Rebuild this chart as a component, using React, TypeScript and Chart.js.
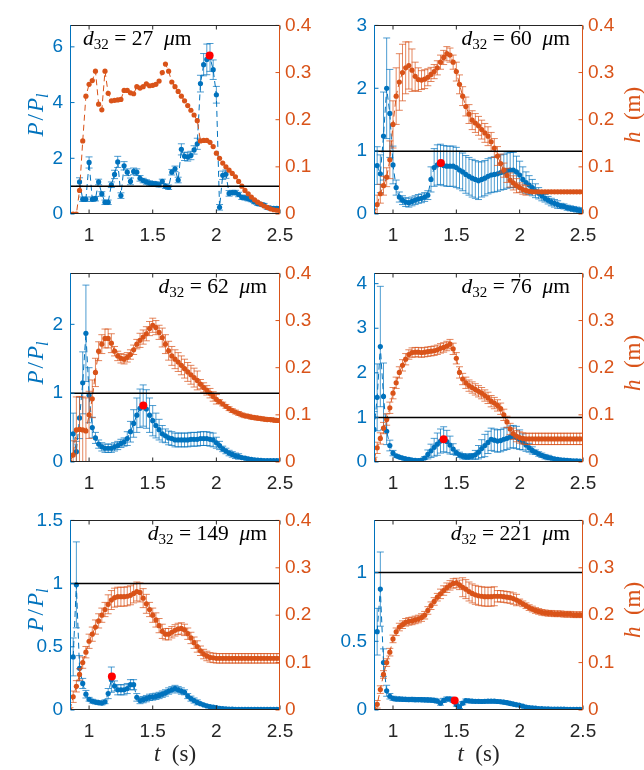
import React, { useEffect, useRef } from "react";
import { Chart, registerables } from "chart.js";

Chart.register(...registerables);

// ---------------- data ----------------
const T = [0.85,0.875,0.9,0.925,0.95,0.975,1,1.025,1.05,1.075,1.1,1.125,1.15,1.175,1.2,1.225,1.25,1.275,1.3,1.325,1.35,1.375,1.4,1.425,1.45,1.475,1.5,1.525,1.55,1.575,1.6,1.625,1.65,1.675,1.7,1.725,1.75,1.775,1.8,1.825,1.85,1.875,1.9,1.925,1.95,1.975,2,2.025,2.05,2.075,2.1,2.125,2.15,2.175,2.2,2.225,2.25,2.275,2.3,2.325,2.35,2.375,2.4,2.425,2.45,2.475,2.5];
const X_MIN = 0.85;
const X_MAX = 2.5;
const X_TICKS = [1, 1.5, 2, 2.5];
const H_MAX = 0.4;
const H_TICKS = [0, 0.1, 0.2, 0.3, 0.4];
const REF_LEVEL = 1;
const D32 = ["27", "60", "62", "76", "149", "221"];
const P_MAX = [6.77, 3, 2.74, 4.23, 1.5, 1.38];
const P1_TICKS = [0, 2, 4, 6];
const P2_TICKS = [0, 1, 2, 3];
const P3_TICKS = [0, 1, 2];
const P4_TICKS = [0, 1, 2, 3, 4];
const P5_TICKS = [0, 0.5, 1, 1.5];
const P6_TICKS = [0, 0.5, 1];
const RED_T = [1.947, 1.378, 1.426, 1.4, 1.179, 1.487];
const RED_P = [5.69, 0.81, 0.82, 0.51, 0.265, 0.069];

const P1_P = [null,null,null,1.15,0.53,0.53,1.85,0.53,0.55,1.15,
0.72,0.42,0.42,1.05,1.42,1.87,0.66,1.73,1.5,1.17,
1.53,1.5,1.28,1.2,1.15,1.11,1.09,1.08,1.05,1.17,
1.0,0.96,1.5,1.62,1.22,2.32,2.07,2.05,2.1,2.3,
2.52,4.68,5.36,5.55,5.62,5.18,4.28,0.24,1.39,1.43,
0.74,0.77,0.77,0.7,0.6,0.58,0.55,0.5,0.43,0.37,
0.35,0.32,0.23,0.21,0.2,0.2,0.2];
const P1_PE = [0,0,0,0.15,0.08,0.08,0.2,0.08,0.08,0.1,
0.08,0.08,0.08,0.1,0.15,0.2,0.1,0.15,0.12,0.12,
0.12,0.12,0.1,0.08,0.08,0.08,0.08,0.08,0.08,0.08,
0.08,0.08,0.1,0.1,0.1,0.2,0.15,0.15,0.15,0.15,
0.2,0.3,0.4,0.55,0.5,0.35,0.3,0.1,0.15,0.15,
0.1,0.08,0.08,0.08,0.08,0.08,0.08,0.06,0.06,0.06,
0.06,0.06,0.06,0.06,0.06,0.06,0.06];
const P1_H = [0,0,0,0.05,0.155,0.25,0.275,0.283,0.303,0.233,
0.221,0.303,0.256,0.24,0.241,0.242,0.243,0.262,0.262,0.257,
0.255,0.27,0.267,0.27,0.276,0.272,0.273,0.275,0.282,0.3,
0.318,0.303,0.28,0.27,0.26,0.25,0.24,0.23,0.22,0.21,
0.198,0.155,0.156,0.156,0.152,0.143,0.129,0.118,0.108,0.1,
0.093,0.086,0.079,0.069,0.059,0.05,0.043,0.036,0.03,0.025,
0.021,0.017,0.014,0.011,0.009,0.008,0.007];
const P1_HE = null;

const P2_P = [null,0.77,0.64,1.24,2.0,1.6,0.78,0.42,0.27,0.22,
0.19,0.18,0.2,0.22,0.24,0.25,0.27,0.3,0.55,0.74,
0.78,0.79,0.77,0.76,0.76,0.76,0.74,0.7,0.67,0.63,
0.6,0.57,0.55,0.53,0.55,0.57,0.6,0.62,0.63,0.64,
0.66,0.67,0.69,0.7,0.7,0.67,0.62,0.55,0.5,0.46,
0.42,0.37,0.33,0.29,0.25,0.22,0.19,0.17,0.15,0.13,
0.12,0.1,0.09,0.08,0.07,0.06,0.05];
const P2_PE = [0,0.3,0.3,0.7,0.8,0.7,0.3,0.12,0.08,0.07,
0.07,0.07,0.07,0.07,0.07,0.07,0.07,0.07,0.2,0.3,
0.32,0.32,0.32,0.32,0.32,0.32,0.32,0.3,0.3,0.3,
0.3,0.3,0.3,0.3,0.28,0.28,0.28,0.28,0.28,0.28,
0.28,0.28,0.28,0.28,0.28,0.25,0.22,0.2,0.17,0.15,
0.13,0.11,0.09,0.08,0.06,0.06,0.06,0.06,0.06,0.04,
0.04,0.04,0.04,0.04,0.04,0.04,0.04];
const P2_H = [0,0.02,0.043,0.06,0.078,0.115,0.19,0.25,0.28,0.3,
0.31,0.315,0.305,0.292,0.285,0.284,0.286,0.29,0.296,0.302,
0.31,0.322,0.332,0.34,0.337,0.322,0.302,0.275,0.25,0.228,
0.212,0.199,0.193,0.187,0.179,0.172,0.165,0.153,0.14,0.123,
0.107,0.093,0.082,0.072,0.066,0.06,0.056,0.052,0.05,0.048,
0.047,0.047,0.047,0.047,0.047,0.047,0.047,0.047,0.047,0.047,
0.047,0.047,0.047,0.047,0.047,0.047,0.047];
const P2_HE = [0.01,0.02,0.02,0.02,0.02,0.04,0.05,0.06,0.06,0.06,
0.055,0.05,0.045,0.03,0.025,0.02,0.02,0.018,0.015,0.015,
0.015,0.015,0.015,0.015,0.015,0.015,0.02,0.02,0.02,0.02,
0.02,0.02,0.02,0.02,0.02,0.02,0.02,0.02,0.02,0.02,
0.02,0.015,0.015,0.015,0.015,0.015,0.01,0.01,0.01,0.003,
0.003,0.003,0.003,0.003,0.003,0.003,0.003,0.003,0.003,0.003,
0.003,0.003,0.003,0.003,0.003,0.003,0.003];

const P3_P = [null,0.41,0.15,0.64,1.15,1.87,0.97,0.5,0.35,0.26,
0.22,0.2,0.2,0.2,0.22,0.24,0.27,0.29,0.34,0.44,
0.56,0.68,0.78,0.82,0.77,0.68,0.6,0.53,0.47,0.41,
0.38,0.35,0.34,0.32,0.32,0.32,0.32,0.32,0.33,0.33,
0.33,0.34,0.34,0.34,0.33,0.32,0.28,0.24,0.19,0.16,
0.13,0.11,0.09,0.08,0.065,0.055,0.045,0.037,0.03,0.027,
0.024,0.022,0.02,0.02,0.02,0.02,0.02];
const P3_PE = [0,0.3,0.15,0.3,0.45,0.7,0.4,0.15,0.08,0.06,
0.06,0.06,0.06,0.06,0.06,0.06,0.06,0.06,0.1,0.15,
0.2,0.25,0.28,0.3,0.28,0.25,0.22,0.18,0.15,0.12,
0.1,0.1,0.1,0.1,0.1,0.1,0.1,0.1,0.1,0.1,
0.1,0.1,0.1,0.1,0.1,0.1,0.08,0.06,0.04,0.04,
0.04,0.04,0.04,0.04,0.015,0.015,0.015,0.015,0.015,0.015,
0.015,0.015,0.015,0.015,0.015,0.015,0.015];
const P3_H = [0,0.015,0.068,0.069,0.068,0.066,0.1,0.134,0.19,0.235,
0.25,0.262,0.262,0.252,0.235,0.225,0.22,0.218,0.222,0.228,
0.238,0.25,0.258,0.265,0.272,0.283,0.29,0.285,0.275,0.264,
0.25,0.236,0.225,0.218,0.212,0.205,0.198,0.191,0.185,0.179,
0.173,0.165,0.158,0.152,0.146,0.139,0.133,0.128,0.123,0.118,
0.113,0.109,0.106,0.103,0.1,0.098,0.097,0.095,0.094,0.093,
0.092,0.091,0.09,0.09,0.089,0.088,0.088];
const P3_HE = [0.01,0.03,0.07,0.07,0.07,0.07,0.05,0.04,0.03,0.02,
0.02,0.02,0.02,0.02,0.01,0.01,0.01,0.01,0.01,0.01,
0.01,0.01,0.015,0.015,0.015,0.015,0.015,0.015,0.015,0.02,
0.02,0.02,0.02,0.02,0.02,0.02,0.02,0.02,0.02,0.02,
0.02,0.01,0.01,0.01,0.01,0.01,0.01,0.004,0.004,0.004,
0.004,0.004,0.004,0.004,0.004,0.004,0.004,0.004,0.004,0.004,
0.004,0.004,0.004,0.004,0.004,0.004,0.004];

const P4_P = [0.73,1.45,2.59,1.47,0.69,0.37,0.2,0.14,0.11,0.09,
0.07,0.06,0.04,0.035,0.03,0.04,0.09,0.17,0.25,0.33,
0.4,0.47,0.51,0.46,0.38,0.29,0.21,0.16,0.13,0.12,
0.12,0.13,0.16,0.22,0.3,0.37,0.44,0.51,0.49,0.47,
0.48,0.51,0.53,0.56,0.57,0.55,0.5,0.45,0.38,0.32,
0.26,0.22,0.18,0.15,0.12,0.1,0.085,0.07,0.06,0.05,
0.045,0.038,0.033,0.028,0.025,0.022,0.02];
const P4_PE = [0.4,0.75,1.35,0.75,0.3,0.12,0.06,0.03,0.03,0.03,
0.03,0.03,0.03,0.03,0.03,0.03,0.03,0.1,0.15,0.2,
0.25,0.27,0.28,0.25,0.2,0.12,0.06,0.06,0.06,0.06,
0.06,0.06,0.1,0.15,0.2,0.25,0.25,0.25,0.25,0.25,
0.25,0.25,0.25,0.25,0.25,0.25,0.22,0.18,0.14,0.1,
0.08,0.05,0.05,0.05,0.05,0.05,0.02,0.02,0.02,0.02,
0.02,0.02,0.02,0.02,0.02,0.02,0.02];
const P4_H = [0.005,0.03,0.05,0.072,0.09,0.115,0.146,0.168,0.19,0.205,
0.218,0.228,0.232,0.233,0.233,0.232,0.233,0.234,0.235,0.236,
0.238,0.241,0.243,0.246,0.25,0.24,0.22,0.19,0.176,0.168,
0.162,0.158,0.154,0.15,0.146,0.141,0.136,0.129,0.125,0.12,
0.113,0.1,0.085,0.07,0.06,0.055,0.052,0.05,0.049,0.049,
0.049,0.049,0.049,0.049,0.049,0.049,0.049,0.049,0.049,0.049,
0.049,0.049,0.049,0.049,0.049,0.049,0.049];
const P4_HE = [0.005,0.012,0.012,0.012,0.012,0.012,0.012,0.012,0.012,0.012,
0.012,0.01,0.01,0.01,0.01,0.01,0.01,0.01,0.01,0.01,
0.01,0.01,0.01,0.01,0.01,0.012,0.012,0.012,0.012,0.012,
0.012,0.012,0.012,0.012,0.012,0.012,0.012,0.012,0.012,0.012,
0.012,0.012,0.012,0.012,0.012,0.012,0.012,0.012,0.012,0.012,
0.012,0.012,0.012,0.012,0.012,0.012,0.012,0.012,0.012,0.012,
0.012,0.012,0.012,0.012,0.012,0.012,0.012];

const P5_P = [null,0.42,0.99,0.33,0.21,0.125,0.085,0.07,0.063,0.058,
0.055,0.065,0.13,0.24,0.19,0.16,0.16,0.16,0.17,0.2,
0.2,0.1,0.075,0.082,0.09,0.1,0.103,0.108,0.115,0.125,
0.135,0.15,0.16,0.17,0.16,0.15,0.14,0.11,0.09,0.075,
0.06,0.05,0.04,0.032,0.026,0.022,0.018,0.014,0.011,0.009,
0.008,0.007,0.005,0.005,0.005,0.005,0.005,0.005,0.005,0.005,
0.005,0.005,0.005,0.005,0.005,0.005,0.005];
const P5_PE = [0,0.15,0.34,0.1,0.04,0.03,0.015,0.015,0.015,0.015,
0.015,0.015,0.04,0.1,0.04,0.04,0.04,0.04,0.04,0.04,
0.04,0.03,0.025,0.025,0.025,0.025,0.025,0.025,0.025,0.025,
0.025,0.025,0.025,0.025,0.025,0.025,0.02,0.02,0.02,0.02,
0.02,0.005,0.005,0.005,0.005,0.005,0.005,0.005,0.005,0.005,
0.005,0.005,0.005,0.005,0.005,0.005,0.005,0.005,0.005,0.005,
0.005,0.005,0.005,0.005,0.005,0.005,0.005];
const P5_H = [0,0.028,0.05,0.075,0.1,0.122,0.145,0.16,0.175,0.188,
0.2,0.212,0.223,0.232,0.237,0.239,0.239,0.239,0.24,0.242,
0.246,0.25,0.248,0.236,0.224,0.212,0.2,0.19,0.178,0.166,
0.16,0.16,0.164,0.168,0.171,0.172,0.169,0.161,0.152,0.142,
0.134,0.125,0.118,0.114,0.111,0.11,0.109,0.109,0.109,0.109,
0.109,0.109,0.109,0.109,0.109,0.109,0.109,0.109,0.109,0.109,
0.109,0.109,0.109,0.109,0.109,0.109,0.109];
const P5_HE = [0.005,0.012,0.012,0.012,0.012,0.012,0.015,0.015,0.015,0.015,
0.015,0.015,0.02,0.02,0.02,0.02,0.02,0.02,0.02,0.02,
0.02,0.02,0.02,0.02,0.02,0.015,0.015,0.015,0.015,0.015,
0.012,0.012,0.012,0.012,0.012,0.012,0.012,0.012,0.012,0.012,
0.012,0.01,0.01,0.01,0.01,0.01,0.01,0.01,0.01,0.01,
0.01,0.01,0.01,0.01,0.01,0.01,0.01,0.01,0.01,0.01,
0.01,0.01,0.01,0.01,0.01,0.01,0.01];

const P6_P = [null,0.57,0.88,0.345,0.14,0.1,0.085,0.08,0.08,0.078,
0.077,0.076,0.077,0.075,0.076,0.075,0.074,0.073,0.072,0.07,
0.065,0.05,0.07,0.08,0.08,0.07,0.04,0.023,0.05,0.068,
0.066,0.064,0.063,0.063,0.062,0.063,0.064,0.064,0.064,0.062,
0.06,0.057,0.053,0.048,0.043,0.038,0.034,0.028,0.022,0.018,
0.015,0.013,0.011,0.01,0.009,0.008,0.007,0.006,0.006,0.006,
0.006,0.005,0.005,0.005,0.005,0.005,0.005];
const P6_PE = [0,0.17,0.27,0.1,0.04,0.02,0.015,0.015,0.015,0.015,
0.015,0.015,0.015,0.015,0.015,0.015,0.015,0.015,0.015,0.015,
0.015,0.015,0.015,0.015,0.015,0.015,0.012,0.012,0.012,0.012,
0.012,0.012,0.012,0.012,0.012,0.012,0.012,0.012,0.012,0.012,
0.012,0.012,0.012,0.012,0.012,0.012,0.005,0.005,0.005,0.005,
0.005,0.005,0.005,0.005,0.005,0.005,0.005,0.005,0.005,0.005,
0.005,0.005,0.005,0.005,0.005,0.005,0.005];
const P6_H = [0,0.012,0.043,0.075,0.1,0.122,0.15,0.165,0.175,0.18,
0.185,0.187,0.188,0.19,0.192,0.195,0.2,0.21,0.22,0.229,
0.238,0.245,0.252,0.258,0.263,0.267,0.268,0.264,0.259,0.255,
0.25,0.246,0.243,0.241,0.24,0.239,0.239,0.239,0.24,0.24,
0.24,0.239,0.238,0.237,0.235,0.232,0.228,0.224,0.22,0.216,
0.213,0.21,0.208,0.206,0.205,0.204,0.204,0.203,0.203,0.203,
0.202,0.202,0.202,0.201,0.201,0.201,0.201];
const P6_HE = [0.003,0.008,0.008,0.008,0.008,0.008,0.008,0.008,0.008,0.008,
0.008,0.008,0.008,0.008,0.008,0.008,0.008,0.008,0.008,0.008,
0.008,0.01,0.01,0.01,0.01,0.01,0.01,0.01,0.02,0.02,
0.02,0.02,0.02,0.02,0.02,0.02,0.02,0.02,0.02,0.012,
0.012,0.012,0.012,0.012,0.012,0.012,0.006,0.006,0.006,0.006,
0.006,0.006,0.006,0.006,0.006,0.006,0.006,0.006,0.006,0.006,
0.006,0.006,0.006,0.006,0.006,0.006,0.006];

const SERIES = [
  { p: P1_P, pe: P1_PE, h: P1_H, he: P1_HE, ticks: P1_TICKS },
  { p: P2_P, pe: P2_PE, h: P2_H, he: P2_HE, ticks: P2_TICKS },
  { p: P3_P, pe: P3_PE, h: P3_H, he: P3_HE, ticks: P3_TICKS },
  { p: P4_P, pe: P4_PE, h: P4_H, he: P4_HE, ticks: P4_TICKS },
  { p: P5_P, pe: P5_PE, h: P5_H, he: P5_HE, ticks: P5_TICKS },
  { p: P6_P, pe: P6_PE, h: P6_H, he: P6_HE, ticks: P6_TICKS },
];

// ---------------- layout & style ----------------
const BLUE = "#0072BD";
const ORANGE = "#D95319";
const AXIS = "#262626";
const BLUE_ERR = "rgba(0,114,189,0.7)";
const ORANGE_ERR = "rgba(217,83,25,0.7)";
const ML = 60, MR = 52, MT = 8, MB = 40;
const TICK_LEN = 4;
const CAP = 3.5;
const AREAS = [
  { l: 70, t: 15, w: 210, h: 199 },
  { l: 374, t: 15, w: 209, h: 199 },
  { l: 70, t: 263, w: 210, h: 199 },
  { l: 374, t: 263, w: 209, h: 199 },
  { l: 70, t: 510, w: 210, h: 200 },
  { l: 374, t: 510, w: 209, h: 200 },
];
const TICK_FONT = { family: "'Liberation Sans', Arial, sans-serif", size: 19 };
const MATH_FONT = "'Liberation Serif', 'DejaVu Serif', serif";

const errorBars = {
  id: "errorBars",
  beforeDatasetDraw(chart: any, args: any) {
    const ds = chart.data.datasets[args.index];
    if (!ds.errors) return;
    const xs = chart.scales.x;
    const ys = chart.scales[ds.yAxisID];
    const ctx = chart.ctx;
    const a = chart.chartArea;
    ctx.save();
    ctx.beginPath();
    ctx.rect(a.left, a.top, a.right - a.left, a.bottom - a.top);
    ctx.clip();
    ctx.strokeStyle = ds.errColor;
    ctx.lineWidth = 1;
    ctx.beginPath();
    ds.data.forEach((pt: any, k: number) => {
      const e = ds.errors[k];
      if (pt.y == null || !e) return;
      const x = xs.getPixelForValue(pt.x);
      const y1 = ys.getPixelForValue(pt.y - e);
      const y2 = ys.getPixelForValue(pt.y + e);
      ctx.moveTo(x, y1); ctx.lineTo(x, y2);
      ctx.moveTo(x - CAP, y1); ctx.lineTo(x + CAP, y1);
      ctx.moveTo(x - CAP, y2); ctx.lineTo(x + CAP, y2);
    });
    ctx.stroke();
    ctx.restore();
  },
};

const frame = {
  id: "frame",
  afterDraw(chart: any) {
    const ctx = chart.ctx;
    const { left, right, top, bottom } = chart.chartArea;
    const L = Math.round(left) + 0.5, R = Math.round(right) - 0.5;
    const Tp = Math.round(top) + 0.5, B = Math.round(bottom) - 0.5;
    const seg = (c: string, x1: number, y1: number, x2: number, y2: number) => {
      ctx.strokeStyle = c;
      ctx.beginPath(); ctx.moveTo(x1, y1); ctx.lineTo(x2, y2); ctx.stroke();
    };
    ctx.save();
    ctx.lineWidth = 1;
    chart.scales.x.ticks.forEach((t: any) => {
      const x = chart.scales.x.getPixelForValue(t.value);
      seg(AXIS, x, B, x, B - TICK_LEN);
      seg(AXIS, x, Tp, x, Tp + TICK_LEN);
    });
    chart.scales.yL.ticks.forEach((t: any) => {
      const y = chart.scales.yL.getPixelForValue(t.value);
      seg(BLUE, L, y, L + TICK_LEN, y);
    });
    chart.scales.yR.ticks.forEach((t: any) => {
      const y = chart.scales.yR.getPixelForValue(t.value);
      seg(ORANGE, R, y, R - TICK_LEN, y);
    });
    seg(AXIS, L, Tp, R, Tp);
    seg(AXIS, L, B, R, B);
    seg(BLUE, L, Tp - 0.5, L, B + 0.5);
    seg(ORANGE, R, Tp - 0.5, R, B + 0.5);
    ctx.restore();
  },
};

function Panel({ i }: { i: number }) {
  const ref = useRef<HTMLCanvasElement>(null);
  const a = AREAS[i];
  useEffect(() => {
    const s = SERIES[i];
    const chart = new Chart(ref.current as HTMLCanvasElement, {
      type: "line",
      data: {
        datasets: [
          {
            label: "red",
            data: [{ x: RED_T[i], y: RED_P[i] }],
            yAxisID: "yL",
            showLine: false,
            pointRadius: 4,
            pointBorderWidth: 0,
            pointBackgroundColor: "#FF0000",
            order: 0,
          },
          {
            label: "ref",
            data: [{ x: X_MIN, y: REF_LEVEL }, { x: X_MAX, y: REF_LEVEL }],
            yAxisID: "yL",
            borderColor: "#000000",
            borderWidth: 1.5,
            pointRadius: 0,
            order: 1,
          },
          {
            label: "h",
            data: T.map((t, k) => ({ x: t, y: s.h[k] })),
            yAxisID: "yR",
            borderColor: ORANGE,
            borderWidth: 1,
            borderDash: [6, 4],
            pointRadius: 2.6,
            pointBorderWidth: 0,
            pointBackgroundColor: ORANGE,
            errors: s.he,
            errColor: ORANGE_ERR,
            order: 2,
          },
          {
            label: "P",
            data: T.map((t, k) => ({ x: t, y: s.p[k] })),
            yAxisID: "yL",
            borderColor: BLUE,
            borderWidth: 1,
            borderDash: [6, 4],
            pointRadius: 2.6,
            pointBorderWidth: 0,
            pointBackgroundColor: BLUE,
            errors: s.pe,
            errColor: BLUE_ERR,
            order: 3,
          },
        ] as any,
      },
      options: {
        responsive: false,
        animation: false,
        events: [],
        layout: { padding: 0, autoPadding: false },
        plugins: { legend: { display: false }, tooltip: { enabled: false } },
        scales: {
          x: {
            type: "linear",
            position: "bottom",
            min: X_MIN,
            max: X_MAX,
            afterBuildTicks: (sc: any) => { sc.ticks = X_TICKS.map((v) => ({ value: v })); },
            afterFit: (sc: any) => { sc.height = MB; },
            grid: { display: false, drawTicks: false },
            border: { display: false },
            ticks: { autoSkip: false, maxRotation: 0, minRotation: 0, padding: 10, color: AXIS, font: TICK_FONT, callback: (v: any) => String(v) },
          },
          yL: {
            type: "linear",
            position: "left",
            min: 0,
            max: P_MAX[i],
            afterBuildTicks: (sc: any) => { sc.ticks = s.ticks.map((v) => ({ value: v })); },
            afterFit: (sc: any) => { sc.width = ML; },
            grid: { display: false, drawTicks: false },
            border: { display: false },
            ticks: { padding: 7, color: BLUE, font: TICK_FONT, callback: (v: any) => String(v) },
          },
          yR: {
            type: "linear",
            position: "right",
            min: 0,
            max: H_MAX,
            afterBuildTicks: (sc: any) => { sc.ticks = H_TICKS.map((v) => ({ value: v })); },
            afterFit: (sc: any) => { sc.width = MR; },
            grid: { display: false, drawTicks: false },
            border: { display: false },
            ticks: { padding: 5, color: ORANGE, font: TICK_FONT, callback: (v: any) => String(v) },
          },
        },
      } as any,
      plugins: [errorBars, frame],
    });
    return () => chart.destroy();
  }, [i]);
  return (
    <canvas
      ref={ref}
      width={ML + a.w + MR}
      height={MT + a.h + MB}
      style={{ position: "absolute", left: a.l - ML, top: a.t - MT }}
    />
  );
}

const mathStyle: React.CSSProperties = {
  position: "absolute",
  fontFamily: MATH_FONT,
  fontSize: 23,
  lineHeight: 1,
  whiteSpace: "nowrap",
};

const subStyle: React.CSSProperties = { fontSize: "0.7em", position: "relative", top: "0.3em" };

function Annotation({ i }: { i: number }) {
  const a = AREAS[i];
  const size = 21.5;
  const baseline = a.t + 31;
  const top = baseline - size * 0.84;
  const style: React.CSSProperties =
    i === 0
      ? { ...mathStyle, fontSize: size, left: a.l + 13, top, color: "#000" }
      : { ...mathStyle, fontSize: size, left: a.l + a.w - 13, top, transform: "translateX(-100%)", color: "#000" };
  return (
    <div style={style}>
      <i>d</i>
      <span style={subStyle}>32</span>
      {"\u00a0=\u00a0"}
      {D32[i]}
      {"\u00a0\u00a0"}
      <i>μ</i>m
    </div>
  );
}

export default function App() {
  return (
    <div style={{ position: "absolute", left: 0, top: 0, width: 644, height: 770, background: "#fff" }}>
      {AREAS.map((_, i) => (
        <Panel key={"p" + i} i={i} />
      ))}
      {AREAS.map((_, i) => (
        <Annotation key={"a" + i} i={i} />
      ))}
      {[0, 2, 4].map((i) => (
        <div
          key={"yl" + i}
          style={{ ...mathStyle, color: BLUE, left: 35, top: AREAS[i].t + AREAS[i].h / 2, transform: "translate(-50%,-50%) rotate(-90deg)" }}
        >
          <i>P</i>
          <span style={{ padding: "0 2px" }}>/</span>
          <i>P</i>
          <span style={subStyle}><i>l</i></span>
        </div>
      ))}
      {[1, 3, 5].map((i) => (
        <div
          key={"yr" + i}
          style={{ ...mathStyle, color: ORANGE, left: 632, top: AREAS[i].t + AREAS[i].h / 2, transform: "translate(-50%,-50%) rotate(-90deg)" }}
        >
          <i>h</i>{"\u00a0\u00a0"}(m)
        </div>
      ))}
      {[4, 5].map((i) => (
        <div
          key={"xl" + i}
          style={{ ...mathStyle, color: AXIS, left: AREAS[i].l + AREAS[i].w / 2, top: 753, transform: "translate(-50%,-50%)" }}
        >
          <i>t</i>{"\u00a0\u00a0"}(s)
        </div>
      ))}
    </div>
  );
}
